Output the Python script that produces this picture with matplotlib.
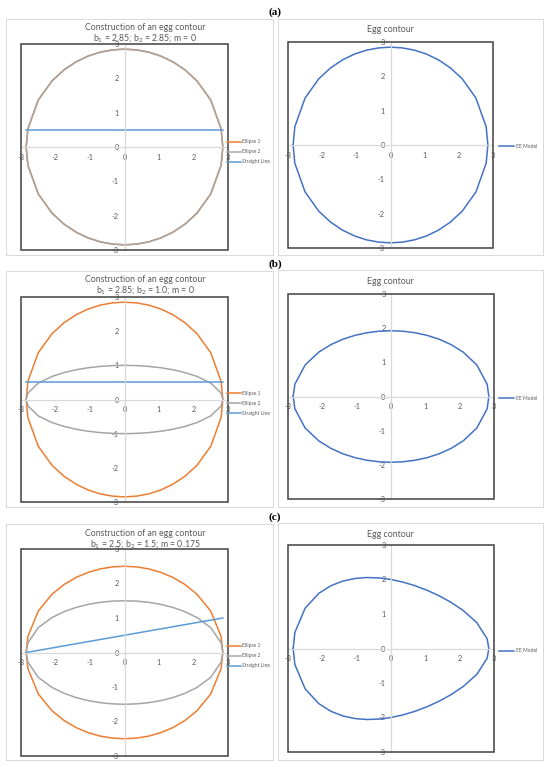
import matplotlib
matplotlib.use("Agg")
import matplotlib.pyplot as plt
from matplotlib.patches import Rectangle

plt.rcParams['font.family'] = ['Lato', 'DejaVu Sans']
plt.rcParams['mathtext.fontset'] = 'custom'
plt.rcParams['mathtext.rm'] = 'Lato'
plt.rcParams['mathtext.it'] = 'Lato:italic'
plt.rcParams['axes.unicode_minus'] = False

W, H = 550, 767

# x positions of the points
x_pts = [-2.85, -2.8, -2.5, -2.1, -1.75, -1.4, -1.05, -0.7, -0.35, 0.0,
         0.35, 0.7, 1.05, 1.4, 1.75, 2.1, 2.5, 2.8, 2.85]

# upper halves of the curves (lower halves are the mirror image)
ell_285 = [0, 0.532, 1.368, 1.927, 2.249, 2.482, 2.650, 2.763, 2.828, 2.85,
           2.828, 2.763, 2.650, 2.482, 2.249, 1.927, 1.368, 0.532, 0]
ell_100 = [0, 0.187, 0.480, 0.676, 0.789, 0.871, 0.930, 0.969, 0.992, 1.0,
           0.992, 0.969, 0.930, 0.871, 0.789, 0.676, 0.480, 0.187, 0]
ell_250 = [0, 0.466, 1.200, 1.690, 1.973, 2.178, 2.324, 2.424, 2.481, 2.5,
           2.481, 2.424, 2.324, 2.178, 1.973, 1.690, 1.200, 0.466, 0]
ell_150 = [0, 0.280, 0.720, 1.014, 1.184, 1.307, 1.395, 1.454, 1.489, 1.5,
           1.489, 1.454, 1.395, 1.307, 1.184, 1.014, 0.720, 0.280, 0]
egg_a = ell_285
egg_b = [0, 0.359, 0.924, 1.301, 1.519, 1.677, 1.790, 1.866, 1.910, 1.925,
         1.910, 1.866, 1.790, 1.677, 1.519, 1.301, 0.924, 0.359, 0]
egg_c = [0, 0.464, 1.170, 1.601, 1.820, 1.955, 2.030, 2.058, 2.045, 2.0,
         1.924, 1.820, 1.688, 1.529, 1.337, 1.104, 0.750, 0.282, 0]

line_x = [-2.85, 2.85]
line_a = [0.5, 0.5]
line_b = [0.5, 0.5]
line_c = [0.0, 1.0]

subtitles = ["b$_1$ = 2.85; b$_2$ = 2.85; m = 0",
             "b$_1$ = 2.85; b$_2$ = 1.0; m = 0",
             "b$_1$ = 2.5; b$_2$ = 1.5; m = 0.175"]
letters = ["(a)", "(b)", "(c)"]
ticks = [-3, -2, -1, 0, 1, 2, 3]

rows = [
    dict(e1=ell_285, e2=ell_285, line=line_a, egg=egg_a,
         letter_y=12, box_l=(6, 19, 273, 255), box_r=(278, 19, 543, 255),
         plot_l=(21, 44, 228, 250), plot_r=(288, 42, 493, 248),
         title_l=(27, 38.5), title_r=30, leg_l=152, leg_r=146),
    dict(e1=ell_285, e2=ell_100, line=line_b, egg=egg_b,
         letter_y=264, box_l=(6, 271, 273, 507), box_r=(278, 270, 543, 507),
         plot_l=(21, 297, 228, 502), plot_r=(288, 294, 494, 499),
         title_l=(279.5, 290.5), title_r=282, leg_l=403, leg_r=398),
    dict(e1=ell_250, e2=ell_150, line=line_c, egg=egg_c,
         letter_y=517, box_l=(6, 524, 273, 760), box_r=(278, 523, 543, 760),
         plot_l=(21, 549, 228, 756), plot_r=(288, 545, 494, 752),
         title_l=(533, 544), title_r=534.5, leg_l=656, leg_r=651),
]

C_E1 = '#ED7D31'
C_E2 = '#A5A5A5'
C_LINE = '#5B9BD5'
C_EGG = '#4472C4'
TXT = '#595959'

fig = plt.figure(figsize=(W / 100, H / 100), dpi=100)


def closed(ys):
    xs = x_pts + x_pts[::-1]
    return xs, list(ys) + [-v for v in ys[::-1]]


def make_axes(box):
    l, t, r, b = box
    ax = fig.add_axes([l / W, 1 - b / H, (r - l) / W, (b - t) / H])
    ax.set_xlim(-3, 3)
    ax.set_ylim(-3, 3)
    ax.patch.set_alpha(0)
    for s in ['top', 'right']:
        ax.spines[s].set_visible(False)
    ax.spines['left'].set_position('zero')
    ax.spines['bottom'].set_position('zero')
    ax.spines['left'].set_color('#d9d9d9')
    ax.spines['bottom'].set_color('#d9d9d9')
    ax.spines['left'].set_linewidth(0.9)
    ax.spines['bottom'].set_linewidth(0.9)
    ax.set_xticks(ticks)
    ax.set_yticks(ticks)
    ax.tick_params(axis='both', length=0, labelsize=5.3, labelcolor=TXT)
    ax.tick_params(axis='y', pad=4)
    ax.tick_params(axis='x', pad=5)
    ax.add_patch(Rectangle((0, 0), 1, 1, transform=ax.transAxes, fill=False,
                           edgecolor='#404040', lw=1.1, clip_on=False, zorder=4))
    return ax


def chart_box(box):
    l, t, r, b = box
    fig.patches.append(Rectangle((l / W, 1 - b / H), (r - l) / W, (b - t) / H,
                                 transform=fig.transFigure, fill=False,
                                 edgecolor='#d9d9d9', lw=0.7))


for i, row in enumerate(rows):
    fig.text(275 / W, 1 - row['letter_y'] / H, letters[i], ha='center', va='center',
             fontsize=8, fontweight='bold', family='Liberation Serif', color='black')

    # construction chart
    chart_box(row['box_l'])
    ax = make_axes(row['plot_l'])
    h1, = ax.plot(*closed(row['e1']), color=C_E1, lw=1.1, label='Ellipse 1')
    h2, = ax.plot(*closed(row['e2']), color=C_E2, lw=1.1, label='Ellipse 2')
    h3, = ax.plot(line_x, row['line'], color=C_LINE, lw=1.1, label='Straight Line')
    ty1, ty2 = row['title_l']
    fig.text(145 / W, 1 - ty1 / H, "Construction of an egg contour", ha='center',
             va='center', fontsize=6.3, color=TXT)
    fig.text(145 / W, 1 - ty2 / H, subtitles[i], ha='center', va='center',
             fontsize=6.3, color=TXT)
    ax.legend(handles=[h1, h2, h3], loc='center left',
              bbox_to_anchor=(227 / W, 1 - row['leg_l'] / H),
              bbox_transform=fig.transFigure, frameon=False, fontsize=3.6,
              labelcolor=TXT, handlelength=2.8, handletextpad=0.3,
              labelspacing=1.0, borderpad=0, borderaxespad=0)

    # egg contour chart
    chart_box(row['box_r'])
    ax2 = make_axes(row['plot_r'])
    h4, = ax2.plot(*closed(row['egg']), color=C_EGG, lw=1.1, label='EE Model')
    fig.text(390 / W, 1 - row['title_r'] / H, "Egg contour", ha='center',
             va='center', fontsize=6.3, color=TXT)
    ax2.legend(handles=[h4], loc='center left',
               bbox_to_anchor=(499 / W, 1 - row['leg_r'] / H),
               bbox_transform=fig.transFigure, frameon=False, fontsize=3.6,
               labelcolor=TXT, handlelength=3.0, handletextpad=0.3,
               borderpad=0, borderaxespad=0)

fig.savefig('out.png', dpi=100)
